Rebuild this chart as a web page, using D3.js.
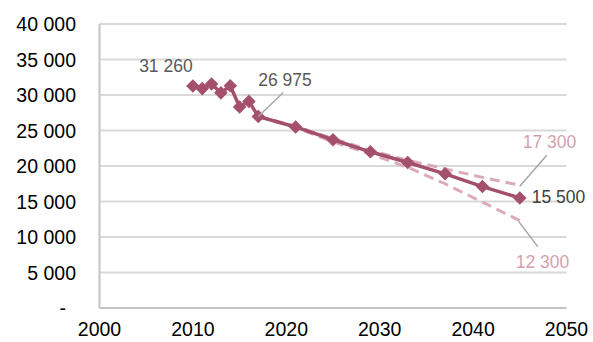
<!DOCTYPE html>
<html><head><meta charset="utf-8">
<script src="https://cdn.jsdelivr.net/npm/d3@7"></script>
<style>
html,body{margin:0;padding:0;background:#fff;}
svg{display:block;font-family:"Liberation Sans",Arial,sans-serif;}
</style></head>
<body>
<script>
const years = [2010,2011,2012,2013,2014,2015,2016,2017,2021,2025,2029,2033,2037,2041,2045];
const mainValues = [31260,30900,31550,30300,31300,28300,29100,26975,25500,23700,22000,20500,18900,17100,15500];
const scenYears = [2017,2021,2025,2029,2033,2037,2041,2045];
const highValues = [26975,25600,23850,22200,20800,19600,18400,17300];
const lowValues = [26975,25400,23400,21700,19800,17500,14900,12300];
const yTicks = [0,5000,10000,15000,20000,25000,30000,35000,40000];
const xTicks = [2000,2010,2020,2030,2040,2050];

const W=593,H=342;
const svg=d3.select("body").append("svg").attr("width",W).attr("height",H);
const x=d3.scaleLinear().domain([2000,2050]).range([99.5,566.5]);
const y=d3.scaleLinear().domain([0,40000]).range([308,24]);
const fmt=v=> v===0? "-" : d3.format(",")(v).replace(/,/g," ");

// gridlines
svg.append("g").selectAll("line").data(yTicks.filter(d=>d>0)).join("line")
  .attr("x1",x(2000)).attr("x2",x(2050)).attr("y1",d=>y(d)).attr("y2",d=>y(d))
  .attr("stroke","#d9d9d9").attr("stroke-width",2);
// axes lines
svg.append("line").attr("x1",x(2000)).attr("x2",x(2050)).attr("y1",y(0)).attr("y2",y(0)).attr("stroke","#c4c4c4").attr("stroke-width",2);
svg.append("line").attr("x1",x(2000)).attr("x2",x(2000)).attr("y1",y(0)).attr("y2",y(40000)).attr("stroke","#c4c4c4").attr("stroke-width",2);

// y labels
svg.append("g").selectAll("text").data(yTicks).join("text")
  .attr("x",d=>d===0?66:76).attr("y",d=>y(d)).attr("dy","0.36em")
  .attr("text-anchor","end").attr("font-size",19.5).attr("fill","#000")
  .text(fmt);
// x labels
svg.append("g").selectAll("text").data(xTicks).join("text")
  .attr("x",d=>x(d)).attr("y",336)
  .attr("text-anchor","middle").attr("font-size",19.5).attr("fill","#000")
  .text(d=>d);

const line=d3.line().x(d=>x(d[0])).y(d=>y(d[1]));
const dashColor="#dcaabb";
svg.append("path").datum(d3.zip(scenYears,highValues)).attr("d",line)
  .attr("fill","none").attr("stroke",dashColor).attr("stroke-width",3).attr("stroke-dasharray","10,6");
svg.append("path").datum(d3.zip(scenYears,lowValues)).attr("d",line)
  .attr("fill","none").attr("stroke",dashColor).attr("stroke-width",3).attr("stroke-dasharray","10,6");

const mainColor="#a4506d";
svg.append("path").datum(d3.zip(years,mainValues)).attr("d",line)
  .attr("fill","none").attr("stroke",mainColor).attr("stroke-width",3.5);
const sym=d3.symbol().type(d3.symbolSquare).size(92);
svg.append("g").selectAll("path").data(d3.zip(years,mainValues)).join("path")
  .attr("d",sym).attr("fill",mainColor)
  .attr("transform",d=>`translate(${x(d[0])},${y(d[1])}) rotate(45)`);

// leaders
const leader="#a6a6a6";
const i17=years.indexOf(2017);
const px17=x(2017), py17=y(mainValues[i17]);
svg.append("line").attr("x1",px17).attr("y1",py17).attr("x2",px17+25).attr("y2",py17-24).attr("stroke",leader).attr("stroke-width",1.5);
const hx=x(2045), hy=y(highValues[highValues.length-1]);
svg.append("line").attr("x1",hx).attr("y1",hy+1).attr("x2",hx+27).attr("y2",hy-30).attr("stroke",leader).attr("stroke-width",1.5);
const ly=y(lowValues[lowValues.length-1]);
svg.append("line").attr("x1",hx-1).attr("y1",ly+1).attr("x2",hx+18).attr("y2",ly+26).attr("stroke",leader).attr("stroke-width",1.5);

// data labels
const lab=(tx,ty,t,c,anchor)=>svg.append("text").attr("x",tx).attr("y",ty).attr("font-size",17.5)
  .attr("fill",c).attr("text-anchor",anchor||"start").text(t);
lab(x(2010)-27,72,fmt(mainValues[0]),"#595959","middle");
lab(px17+0,86,fmt(mainValues[i17]),"#595959");
lab(hx+3,148,fmt(highValues[highValues.length-1]),"#d49fb1");
lab(hx+12,203,fmt(mainValues[mainValues.length-1]),"#404040");
lab(hx-4,268,fmt(lowValues[lowValues.length-1]),"#d49fb1");
</script>
</body></html>
